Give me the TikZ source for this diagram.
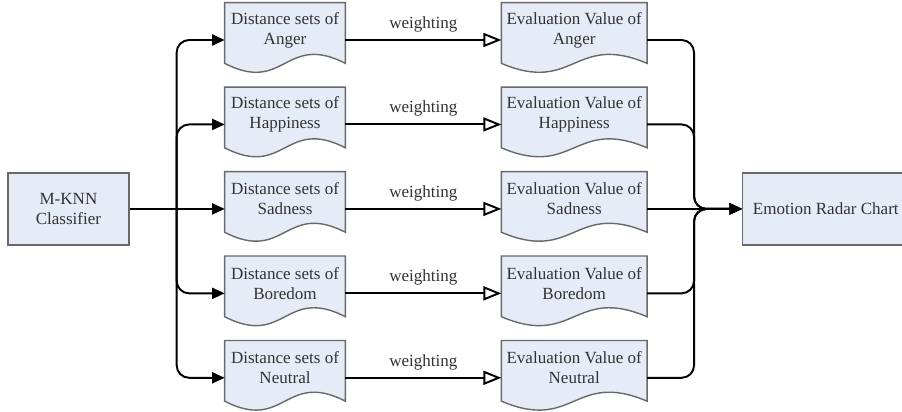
\documentclass[tikz,border=0pt]{standalone}
\usepackage{fontspec}
\setmainfont{Liberation Serif}
\usetikzlibrary{positioning,arrows.meta,backgrounds}
\definecolor{boxfill}{RGB}{230,236,247}
\definecolor{boxline}{RGB}{105,105,105}
\definecolor{boxtext}{RGB}{50,50,50}

\begin{document}
\begin{tikzpicture}[font=\fontsize{9.7}{11.4}\selectfont,
        docnode/.style={rectangle, inner sep=0pt, minimum height=1.08cm, align=center, text=boxtext},
        distnode/.style={docnode, minimum width=2.4cm},
        evalnode/.style={docnode, minimum width=2.9cm},
        squarenode/.style={rectangle, draw=boxline, fill=boxfill, line width=0.8pt, minimum height=1.44cm, align=center, text=boxtext},
        docline/.style={draw=boxline, fill=boxfill, line width=0.8pt},
        link/.style={line width=1.1pt, -{Triangle[length=0.25cm, width=0.22cm]}},
        weightlink/.style={line width=1.1pt, -{Triangle[open, length=0.36cm, width=0.28cm]}}]
        \useasboundingbox (0,0) rectangle (18.04,-8.24);

        \node[distnode] (d1) at (5.7,-0.6) {Distance sets of\\Anger};
        \node[distnode] (d2) [below=0.595cm of d1] {Distance sets of\\Happiness};
        \node[distnode] (d3) [below=0.595cm of d2] {Distance sets of\\Sadness};
        \node[distnode] (d4) [below=0.595cm of d3] {Distance sets of\\Boredom};
        \node[distnode] (d5) [below=0.595cm of d4] {Distance sets of\\Neutral};

        \node[evalnode] (e1) [right=3.12cm of d1] {Evaluation Value of\\Anger};
        \node[evalnode] (e2) [right=3.12cm of d2] {Evaluation Value of\\Happiness};
        \node[evalnode] (e3) [right=3.12cm of d3] {Evaluation Value of\\Sadness};
        \node[evalnode] (e4) [right=3.12cm of d4] {Evaluation Value of\\Boredom};
        \node[evalnode] (e5) [right=3.12cm of d5] {Evaluation Value of\\Neutral};

        \node[squarenode, minimum width=2.42cm, anchor=east] (knn) at ([xshift=-1.9cm, yshift=-0.2cm]d3.west) {M-KNN\\Classifier};
        \node[squarenode, minimum width=3.32cm, anchor=west] (radar) at ([xshift=1.9cm, yshift=-0.2cm]e3.east) {Emotion Radar Chart};

        % wavy document outlines behind the texts
        \begin{scope}[on background layer]
        \foreach \n in {d1,d2,d3,d4,d5,e1,e2,e3,e4,e5}
            \draw[docline] (\n.north west) -- (\n.north east) -- ([yshift=-0.12cm]\n.south east)
                .. controls ([yshift=0.5cm]\n.south) and ([yshift=-0.74cm]\n.south) .. ([yshift=-0.12cm]\n.south west) -- cycle;
        \end{scope}

        % classifier to distance sets
        \coordinate (split) at ([xshift=0.94cm]knn.east);
        \draw[link] (knn.east) -- ([yshift=-0.2cm]d3.west);
        \foreach \n in {d1,d2,d4,d5}
            \draw[link, rounded corners=0.25cm] (split) |- ([yshift=-0.2cm]\n.west);

        % weighting
        \foreach \i in {1,...,5}
            \draw[weightlink] ([yshift=-0.2cm]d\i.east) -- node[above=0.02cm, text=boxtext] {weighting} ([yshift=-0.2cm]e\i.west);

        % evaluation values to radar chart
        \coordinate (merge) at ([xshift=-0.96cm]radar.west);
        \draw[link] ([yshift=-0.2cm]e3.east) -- (radar.west);
        \foreach \n in {e1,e2,e4,e5}
            \draw[link, rounded corners=0.25cm] ([yshift=-0.2cm]\n.east) -| (merge) -- (radar.west);

        \end{tikzpicture}
\end{document}
